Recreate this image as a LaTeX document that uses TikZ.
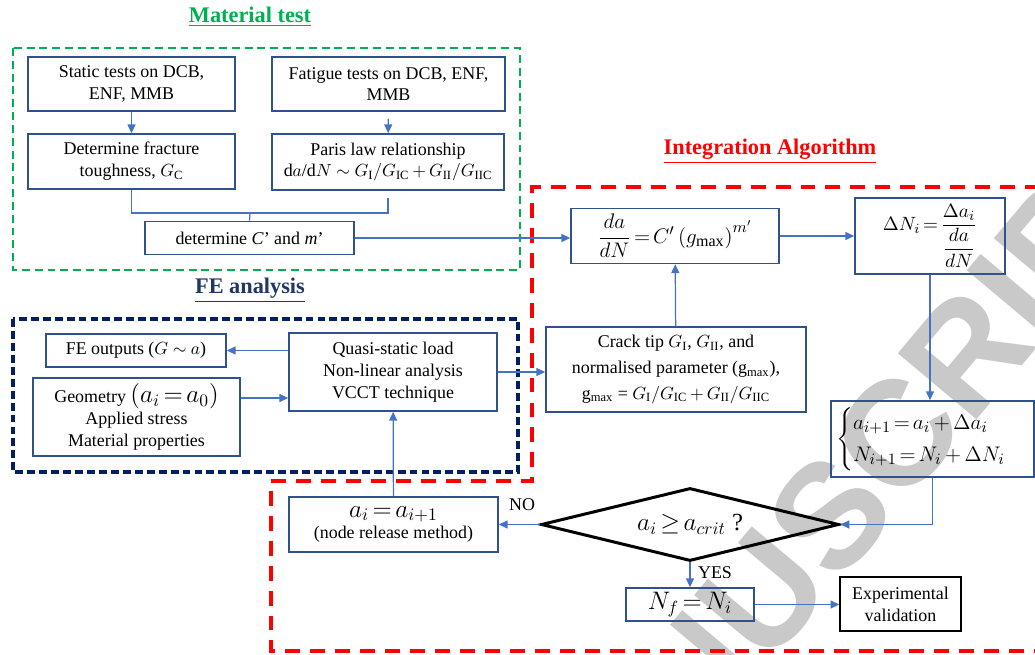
\documentclass[tikz,border=0pt]{standalone}
\usepackage{amsmath}
\usepackage{fontspec}
\setmainfont{Liberation Serif}
\newfontfamily\wmfont{Liberation Sans}
\usetikzlibrary{arrows.meta,positioning,shapes.geometric}
\definecolor{boxblue}{HTML}{2F528F}
\definecolor{arrblue}{HTML}{4472C4}
\definecolor{testgreen}{HTML}{00B050}
\definecolor{fenavy}{HTML}{002060}
\definecolor{fetitle}{HTML}{203864}
\newcommand{\rs}[1]{\ensuremath{_\mathrm{#1}}}
\newcommand{\bigmath}[1]{{\fontsize{14}{14}\selectfont$#1$}}

\begin{document}
\begin{tikzpicture}[x=0.02cm,y=-0.02cm,
    font=\fontsize{10.2}{12.4}\selectfont,
    box/.style={draw=boxblue,line width=0.9pt,align=center,inner sep=1pt},
    arr/.style={draw=arrblue,line width=0.7pt,-{Triangle[length=5pt,width=4.5pt]}},
    link/.style={draw=arrblue,line width=0.7pt},
    title/.style={font=\fontsize{12.7}{14}\selectfont\bfseries}]
  \thickmuskip=2.5mu plus 1mu\medmuskip=3mu plus 1mu
  \useasboundingbox (0,0) rectangle (1035,655);

  % watermark
  \node[rotate=50,text=gray!42,font=\wmfont\bfseries\fontsize{85}{85}\selectfont] (wm) at (830,515) {MANUSCRIPT};

  % titles
  \node[title,text=testgreen] (ttest) at (250,17) {\underline{Material test}};
  \node[title,text=red] (talgo) at (770,151) {\underline{Integration Algorithm}};
  \node[title,text=fetitle] (tfe) at (250,290) {\underline{FE analysis}};

  % frames
  \draw[testgreen,line width=1.7pt,dash pattern=on 4.5pt off 2.8pt] (13,48) rectangle (520,270);
  \draw[fenavy,line width=2pt,dash pattern=on 4.5pt off 2.3pt] (13,319) rectangle (518,472);
  \draw[red,line width=2.3pt,dash pattern=on 8.5pt off 5.7pt]
    (1040,187) -- (532,187) -- (532,481) -- (271,481) -- (271,651) -- (1040,651);

  % material test
  \node[box,minimum width=4.14cm,minimum height=1.08cm] (static) at (131.5,84) {Static tests on DCB,\\ENF, MMB};
  \node[box,minimum width=4.66cm,minimum height=1.08cm] (fatigue) at (388.5,84) {Fatigue tests on DCB, ENF,\\MMB};
  \node[box,minimum width=4.14cm,minimum height=1.10cm] (fract) at (131.5,161.5) {Determine fracture\\toughness, $G\rs{C}$};
  \node[box,minimum width=4.64cm,minimum height=1.12cm] (paris) at (388,162)
    {Paris law relationship\\d$a$/d$N$ $\sim$ $G\rs{I}/G\rs{IC}+G\rs{II}/G\rs{IIC}$};
  \node[box,minimum width=4.18cm,minimum height=0.66cm] (detC) at (249.5,238) {determine \textit{C}’ and \textit{m}’};

  % FE analysis
  \node[box,minimum width=3.6cm,minimum height=0.66cm] (feout) at (136,350.5) {FE outputs ($G$ $\sim$ $a$)};
  \node[box,minimum width=4.14cm,minimum height=1.56cm] (geo) at (136.5,417)
    {Geometry \bigmath{\left(a_i=a_0\right)}\\Applied stress\\Material properties};
  \node[box,minimum width=4.16cm,minimum height=1.56cm] (quasi) at (393,372)
    {Quasi-static load\\Non-linear analysis\\VCCT technique};

  % integration algorithm
  \node[box,minimum width=4.16cm,minimum height=1.10cm,font=\fontsize{13}{15}\selectfont] (rate) at (675,236)
    {$\dfrac{da}{dN}=C'\left(g_{\max}\right)^{m'}$};
  \node[box,minimum width=3.0cm,minimum height=1.52cm,font=\fontsize{11}{13}\selectfont] (dN) at (930,236)
    {$\Delta N_i=\dfrac{\Delta a_i}{\dfrac{da}{dN}}$};
  \node[box,minimum width=5.2cm,minimum height=1.70cm,font=\fontsize{10.2}{14.6}\selectfont] (crack) at (676,369.5)
    {Crack tip $G\rs{I}$, $G\rs{II}$, and\\normalised parameter (g\rs{max}),\\g\rs{max} = $G\rs{I}/G\rs{IC}+G\rs{II}/G\rs{IIC}$};
  \node[box,minimum width=4.06cm,minimum height=1.52cm,font=\fontsize{12.5}{15}\selectfont] (update) at (932.5,439)
    {$\begin{cases}a_{i+1}=a_i+\Delta a_i\\N_{i+1}=N_i+\Delta N_i\end{cases}$};
  \node[draw=black,line width=1.7pt,shape=diamond,aspect=4,inner sep=0pt,
    minimum width=5.96cm,minimum height=1.46cm,font=\fontsize{14}{16}\selectfont] (check) at (690,524.5)
    {$a_i\geq a_{crit}$ ?};
  \node[box,minimum width=4.18cm,minimum height=1.10cm] (release) at (393.5,524.5)
    {\bigmath{a_i=a_{i+1}}\\(node release method)};
  \node[box,minimum width=2.56cm,minimum height=0.66cm,font=\fontsize{14}{16}\selectfont] (nf) at (690,604.5) {$N_f=N_i$};
  \node[draw=black,line width=0.8pt,align=center,minimum width=2.42cm,minimum height=1.08cm] (exp) at (900.5,604)
    {Experimental\\validation};
  \node (nolab) at (522,505) {NO};
  \node (yeslab) at (715,573) {YES};

  % connectors
  \draw[arr] (static) -- (fract);
  \draw[arr,shorten <=4pt] (fatigue) -- (paris);
  \coordinate (join) at (250,213);
  \draw[link] (fract.south) |- (join);
  \draw[link] (join) -| ([yshift=-4pt]paris.south);
  \draw[link] (join) -- (detC.north);
  \draw[arr] (detC.east) -- (detC.east -| rate.west);
  \draw[arr] (rate) -- (dN);
  \draw[arr] (crack) -- (rate);
  \draw[arr] (quasi.east) -- (quasi.east -| crack.west);
  \draw[arr] (quasi.west |- feout) -- (feout.east);
  \draw[arr] ([yshift=0.38cm]geo.east) -- ([yshift=0.38cm]geo.east -| quasi.west);
  \draw[arr] (release) -- (quasi);
  \draw[arr] (check.west) -- (release.east);
  \draw[arr] (dN.south) -- (dN.south |- update.north);
  \draw[arr] (update.south) |- (check.east);
  \draw[arr] (check.south) -- (nf.north);
  \draw[arr] (nf.east) -- (nf.east -| exp.west);
\end{tikzpicture}
\end{document}
